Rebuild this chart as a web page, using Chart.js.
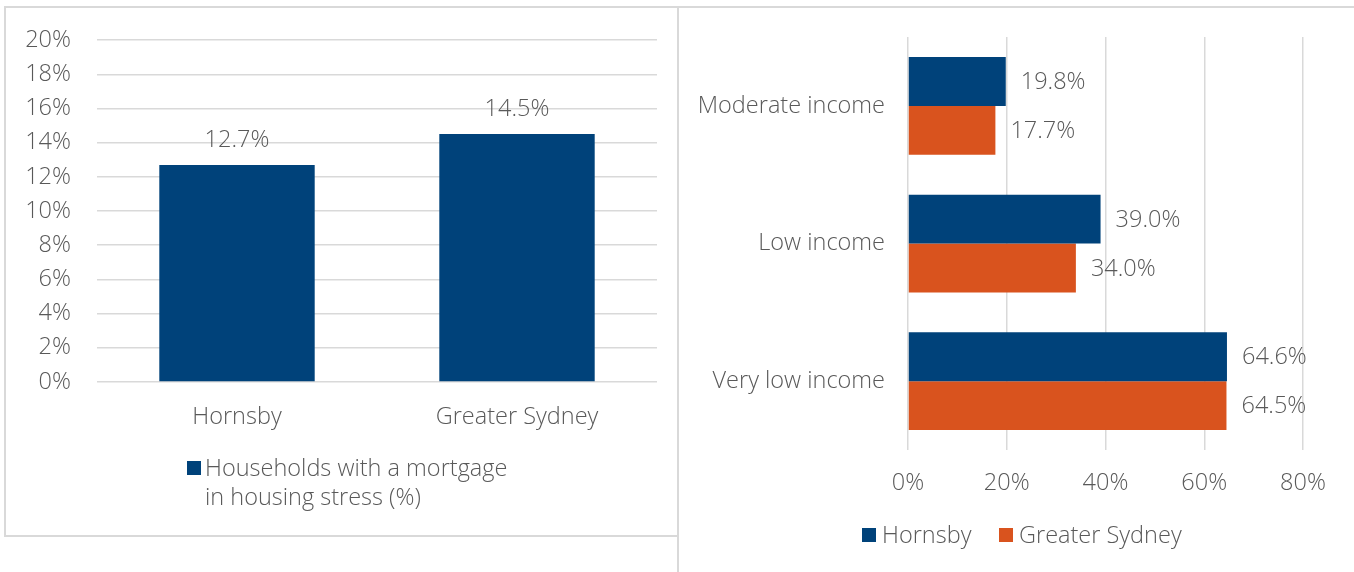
<!DOCTYPE html>
<html>
<head>
<meta charset="utf-8">
<script src="https://cdn.jsdelivr.net/npm/chart.js@4.4.1/dist/chart.umd.min.js"></script>
<style>
  html, body { margin: 0; padding: 0; background: #ffffff; }
  #wrap { position: relative; width: 1354px; height: 572px; overflow: hidden; background: #fff;
          font-family: "Open Sans", "Liberation Sans", Arial, sans-serif; font-weight: 300; color: #595959; }
  .ln { position: absolute; background: #d9d9d9; }
  canvas { position: absolute; }
  .leg { position: absolute; font-size: 23.5px; line-height: 29px; color: #595959; white-space: nowrap; }
  .sw { position: absolute; width: 14px; height: 14px; }
</style>
</head>
<body>
<div id="wrap">
  <div class="ln" style="left:5px; top:6px; width:1349px; height:2px;"></div>
  <div class="ln" style="left:4px; top:6px; width:2px; height:531px;"></div>
  <div class="ln" style="left:4px; top:535px; width:675px; height:2px;"></div>
  <div class="ln" style="left:677px; top:6px; width:2px; height:566px;"></div>

  <div style="position:absolute; left:0; top:0; width:678px; height:536px;"><canvas id="c1"></canvas></div>
  <div style="position:absolute; left:678px; top:0; width:676px; height:572px;"><canvas id="c2"></canvas></div>

  <div class="sw" style="left:187px; top:461px; background:#00427A;"></div>
  <div class="leg" id="leg1" style="left:205px; top:453px;"></div>

  <div class="sw" style="left:862px; top:528px; background:#00427A;"></div>
  <div class="leg" id="leg2a" style="left:882px; top:520px;"></div>
  <div class="sw" style="left:999px; top:528px; background:#D9531E;"></div>
  <div class="leg" id="leg2b" style="left:1019px; top:520px;"></div>
</div>
<script>
// ---- data ----
const leftCategories = ["Hornsby", "Greater Sydney"];
const leftValues = [12.7, 14.5];
const leftSeriesName = ["Households with a mortgage", "in housing stress (%)"];
const leftTicks = [0, 2, 4, 6, 8, 10, 12, 14, 16, 18, 20];

const rightCategories = ["Moderate income", "Low income", "Very low income"];
const hornsbyValues = [19.8, 39.0, 64.6];
const sydneyValues = [17.7, 34.0, 64.5];
const rightSeriesNames = ["Hornsby", "Greater Sydney"];
const rightTicks = [0, 20, 40, 60, 80];

const NAVY = "#00427A";
const ORANGE = "#D9531E";
const TXT = "#595959";
const GRID = "#d9d9d9";
const FONT = { family: '"Open Sans", "Liberation Sans", Arial, sans-serif', size: 23.5, weight: 300 };

document.getElementById("leg1").innerHTML = leftSeriesName.join("<br>");
document.getElementById("leg2a").textContent = rightSeriesNames[0];
document.getElementById("leg2b").textContent = rightSeriesNames[1];

const labelPlugin = {
  id: "valLabels",
  afterDatasetsDraw(chart, args, opts) {
    const ctx = chart.ctx;
    ctx.save();
    ctx.font = FONT.weight + " " + FONT.size + "px " + FONT.family;
    ctx.fillStyle = TXT;
    chart.data.datasets.forEach((ds, i) => {
      const meta = chart.getDatasetMeta(i);
      meta.data.forEach((el, j) => {
        const txt = ds.data[j].toFixed(1) + "%";
        if (opts.mode === "top") {
          ctx.textAlign = "center";
          ctx.textBaseline = "middle";
          ctx.fillText(txt, el.x, el.y - 25);
        } else {
          ctx.textAlign = "left";
          ctx.textBaseline = "middle";
          ctx.fillText(txt, el.x + 15, el.y + 1);
        }
      });
    });
    ctx.restore();
  }
};

Chart.defaults.font.family = FONT.family;
Chart.defaults.font.size = FONT.size;
Chart.defaults.font.weight = FONT.weight;
Chart.defaults.color = TXT;

new Chart(document.getElementById("c1"), {
  type: "bar",
  data: {
    labels: leftCategories,
    datasets: [{ label: leftSeriesName.join(" "), data: leftValues, backgroundColor: NAVY,
                 categoryPercentage: 1, barPercentage: 0.555 }]
  },
  options: {
    responsive: true, maintainAspectRatio: false, animation: false,
    layout: { padding: { top: 37, right: 21, left: 0, bottom: 0 } },
    plugins: { legend: { display: false }, tooltip: { enabled: false }, valLabels: { mode: "top" } },
    scales: {
      x: {
        grid: { display: false, drawTicks: false }, border: { display: false },
        ticks: { padding: 21, font: FONT, color: TXT },
        afterFit: s => { s.height = 154; }
      },
      y: {
        min: 0, max: 20,
        afterBuildTicks: s => { s.ticks = leftTicks.map(v => ({ value: v })); },
        grid: { color: GRID, lineWidth: 1.5, drawTicks: false }, border: { display: false },
        ticks: { padding: 26, font: FONT, color: TXT, callback: v => v + "%" },
        afterFit: s => { s.width = 97; }
      }
    }
  },
  plugins: [labelPlugin]
});

new Chart(document.getElementById("c2"), {
  type: "bar",
  data: {
    labels: rightCategories,
    datasets: [
      { label: rightSeriesNames[0], data: hornsbyValues, backgroundColor: NAVY, categoryPercentage: 0.71, barPercentage: 1 },
      { label: rightSeriesNames[1], data: sydneyValues, backgroundColor: ORANGE, categoryPercentage: 0.71, barPercentage: 1 }
    ]
  },
  options: {
    indexAxis: "y",
    responsive: true, maintainAspectRatio: false, animation: false,
    layout: { padding: { top: 36, right: 51, left: 0, bottom: 0 } },
    plugins: { legend: { display: false }, tooltip: { enabled: false }, valLabels: { mode: "right" } },
    scales: {
      x: {
        min: 0, max: 80,
        afterBuildTicks: s => { s.ticks = rightTicks.map(v => ({ value: v })); },
        grid: { color: GRID, lineWidth: 1.5, drawTicks: false }, border: { display: false },
        ticks: { padding: 19, font: FONT, color: TXT, callback: v => v + "%" },
        afterFit: s => { s.height = 122; }
      },
      y: {
        grid: { display: false, drawTicks: false }, border: { display: false },
        ticks: { padding: 23, font: FONT, color: TXT },
        afterFit: s => { s.width = 230; }
      }
    }
  },
  plugins: [labelPlugin]
});
</script>
</body>
</html>
